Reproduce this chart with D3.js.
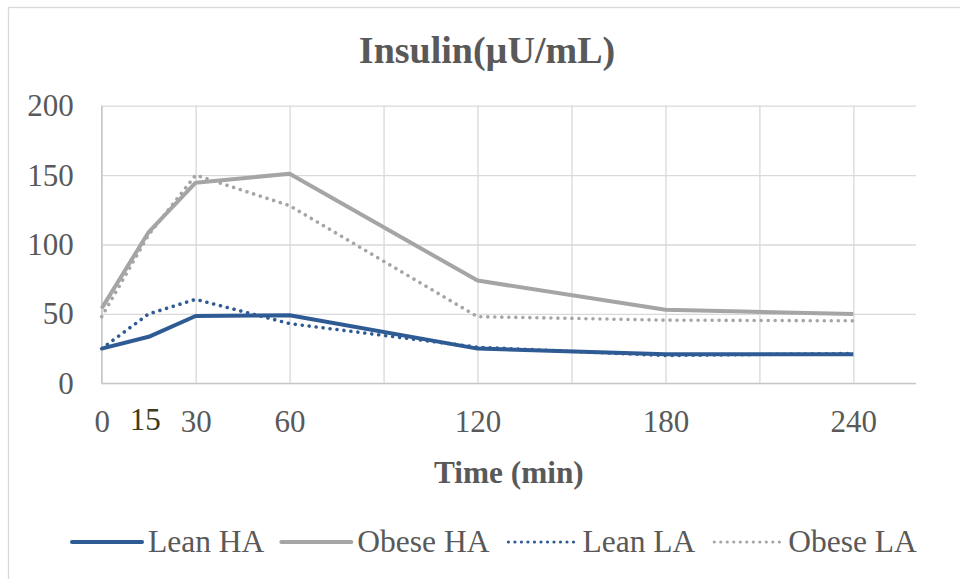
<!DOCTYPE html>
<html>
<head>
<meta charset="utf-8">
<script src="https://cdn.jsdelivr.net/npm/d3@7"></script>
<style>
  body { margin: 0; background: #fff; }
  svg { display: block; font-family: "Liberation Serif", "Times New Roman", serif; }
  .tick text { fill: #595959; font-size: 31px; font-family: "Liberation Serif", "Times New Roman", serif; }
  .legend { fill: #595959; font-size: 31.5px; }
</style>
</head>
<body>
<svg id="chart" width="960" height="579"></svg>
<script>
// minutes after load
let times = [0, 15, 30, 60, 120, 180, 240]
let timeLabels = [0, 15, 30, 60, 120, 180, 240]
let gridTimes = [0, 30, 60, 90, 120, 150, 180, 210, 240]
let yTicks = [0, 50, 100, 150, 200]

let leanHA  = [25, 33.5, 48.5, 49, 25, 21, 21]
let obeseHA = [54, 109, 144.5, 151, 74, 53, 50]
let leanLA  = [25, 50, 60.5, 43, 26, 20, 21.5]
let obeseLA = [48, 107, 150, 128, 48, 45.5, 45]

let seriesNames = ["Lean HA", "Obese HA", "Lean LA", "Obese LA"]
let seriesValues = [leanHA, obeseHA, leanLA, obeseLA]

let colors = ["#2f5b95", "#a5a5a5", "#2f5b95", "#a5a5a5"]
let dotted = [false, false, true, true]

let svg = d3.select("#chart")

// chart area border (runs off the picture right and bottom)
svg.append("rect")
    .attr("x", 8.5).attr("y", 7.5)
    .attr("width", 1000).attr("height", 1000)
    .attr("fill", "none").attr("stroke", "#d9d9d9").attr("stroke-width", 1.3)

let pLeft = 101.7, pRight = 916, pTop = 105.7, pBottom = 383.3

let xScale = d3.scaleLinear().domain([0, 260]).range([pLeft, pRight])
let yScale = d3.scaleLinear().domain([0, 200]).range([pBottom, pTop])

// horizontal grid + y labels
let yAxis = d3.axisLeft(yScale).tickValues(yTicks).tickSize(-(pRight - pLeft)).tickPadding(28)
let gy = svg.append("g").attr("transform", `translate(${pLeft},0)`).call(yAxis)
gy.attr("font-family", null)
gy.select(".domain").remove()
gy.selectAll(".tick line").attr("stroke", "#d9d9d9").attr("stroke-width", 1.3)

// vertical grid
let xGrid = d3.axisBottom(xScale).tickValues(gridTimes).tickSize(-(pBottom - pTop)).tickFormat("")
let gx = svg.append("g").attr("transform", `translate(0,${pBottom})`).call(xGrid)
gx.select(".domain").remove()
gx.selectAll(".tick line").attr("stroke", "#d9d9d9").attr("stroke-width", 1.3)

// axis lines
svg.append("line").attr("x1", pLeft).attr("x2", pRight).attr("y1", pBottom).attr("y2", pBottom)
    .attr("stroke", "#c6c6c6").attr("stroke-width", 1.3)
svg.append("line").attr("x1", pLeft).attr("x2", pLeft).attr("y1", pTop).attr("y2", pBottom)
    .attr("stroke", "#c6c6c6").attr("stroke-width", 1.3)

// x labels
let xLab = d3.axisBottom(xScale).tickValues(timeLabels).tickSize(0).tickPadding(27)
let gl = svg.append("g").attr("transform", `translate(0,${pBottom})`).call(xLab)
gl.attr("font-family", null)
gl.select(".domain").remove()
gl.selectAll(".tick text")
    .filter(d => d === 15)
    .style("fill", "#403b20")
    .attr("dx", -4).attr("dy", "0.62em")

// lines
let line = d3.line()
    .x((d, i) => xScale(times[i]))
    .y(d => yScale(d))

let drawOrder = [3, 2, 1, 0]
drawOrder.forEach(function (k) {
    let p = svg.append("path")
        .datum(seriesValues[k])
        .attr("fill", "none")
        .attr("stroke", colors[k])
        .attr("d", line)
    if (dotted[k]) {
        p.attr("stroke-width", 3.6).attr("stroke-dasharray", "0.01 7").attr("stroke-linecap", "round")
    } else {
        p.attr("stroke-width", 4).attr("stroke-linejoin", "round")
    }
})

// title
svg.append("text")
    .attr("x", 487).attr("y", 63)
    .attr("text-anchor", "middle")
    .attr("font-size", 38).attr("font-weight", "bold")
    .attr("fill", "#595959")
    .text("Insulin(µU/mL)")

svg.append("text")
    .attr("x", (pLeft + pRight) / 2).attr("y", 483)
    .attr("text-anchor", "middle")
    .attr("font-size", 31.3).attr("font-weight", "bold")
    .attr("fill", "#595959")
    .text("Time (min)")

// legend
let lx = 72
seriesNames.forEach(function (name, k) {
    let g = svg.append("g").attr("transform", `translate(${lx},542)`)
    let l = g.append("line").attr("x1", 0).attr("x2", 70).attr("y1", 0).attr("y2", 0)
        .attr("stroke", colors[k])
    if (dotted[k]) {
        l.attr("x1", 2).attr("x2", 68).attr("stroke-width", 3.2).attr("stroke-dasharray", "0.01 6.5").attr("stroke-linecap", "round")
    } else {
        l.attr("stroke-width", 4).attr("stroke-linecap", "round")
    }
    let t = g.append("text").attr("class", "legend").attr("x", 76).attr("y", 10).text(name)
    lx += 76 + t.node().getComputedTextLength() + 17
})
</script>
</body>
</html>
